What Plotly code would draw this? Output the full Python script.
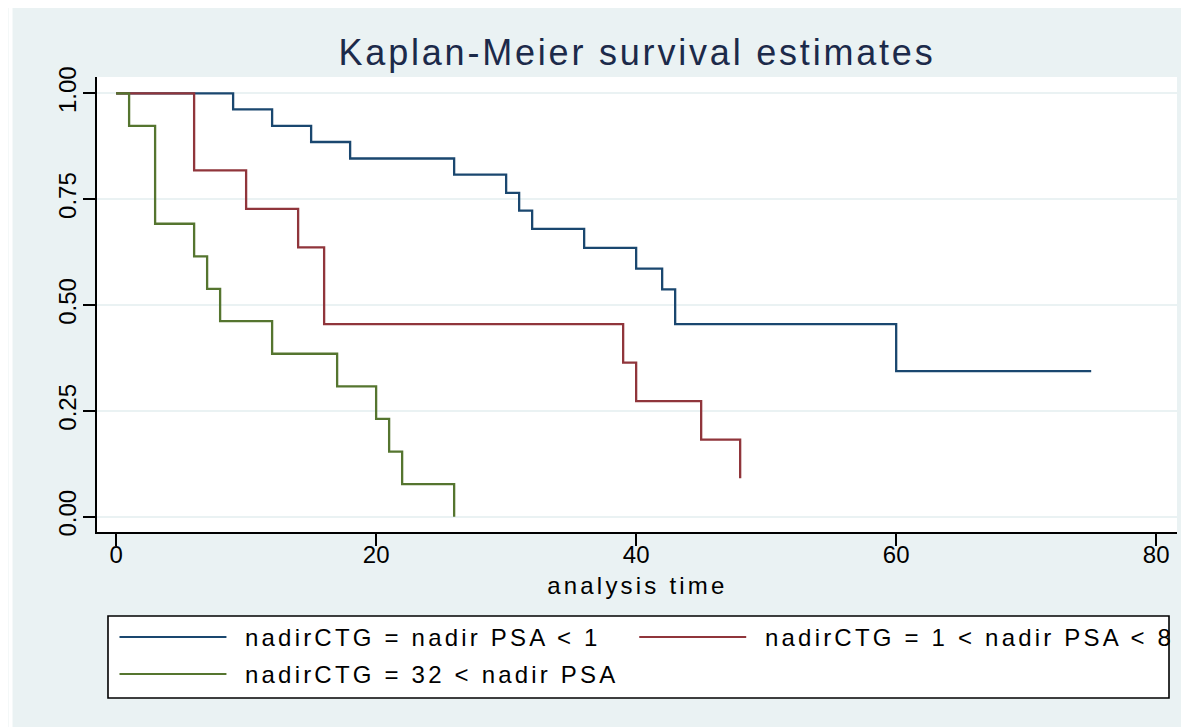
import plotly.graph_objects as go

# ---------------- data ----------------
series_names = [
    "nadirCTG = nadir PSA < 1",
    "nadirCTG = 1 < nadir PSA < 8",
    "nadirCTG = 32 < nadir PSA",
]
blue_time = [0, 9, 12, 15, 18, 26, 30, 31, 32, 36, 40, 42, 43, 60, 75]
blue_surv = [1.0, 0.962, 0.923, 0.885, 0.846, 0.808, 0.765, 0.723, 0.680, 0.635,
             0.586, 0.537, 0.455, 0.344, 0.344]
red_time = [0, 6, 10, 14, 16, 39, 40, 45, 48]
red_surv = [1.0, 0.818, 0.727, 0.636, 0.455, 0.364, 0.273, 0.182, 0.091]
green_time = [0, 1, 3, 6, 7, 8, 12, 17, 20, 21, 22, 26]
green_surv = [1.0, 0.923, 0.692, 0.615, 0.538, 0.462, 0.385, 0.308, 0.231, 0.154, 0.077, 0.0]

x_ticks = [0, 20, 40, 60, 80]
y_ticks = [0.0, 0.25, 0.50, 0.75, 1.0]
y_ticklabels = ["0.00", "0.25", "0.50", "0.75", "1.00"]

title_text = "Kaplan-Meier survival estimates"
xaxis_title = "analysis time"

colors = ["#1a476f", "#90353b", "#55752f"]

# ---------------- layout constants (pixels, page offset of 8px removed) ----------------
OFF = 8
W, H = 1189 - OFF, 727 - OFF
L, R, T, B = 96.5 - OFF, 1177 - OFF, 77 - OFF, 532 - OFF   # plot area edges
FONT = "Liberation Sans, Arial, sans-serif"
BG = "#EAF2F3"


def px(xpix):
    """page pixel x -> paper coordinate"""
    return (xpix - OFF - L) / (R - L)


def py(ypix):
    """page pixel y -> paper coordinate"""
    return (B - (ypix - OFF)) / (B - T)


fig = go.Figure()
for t, s, c, n in zip([blue_time, red_time, green_time],
                      [blue_surv, red_surv, green_surv], colors, series_names):
    fig.add_trace(go.Scatter(x=t, y=s, mode="lines", line=dict(color=c, width=2.3, shape="hv"),
                             name=n, showlegend=False))

shapes = []
# white outer strip on the left
shapes.append(dict(type="rect", xref="paper", yref="paper", x0=px(OFF), x1=px(12), y0=py(727), y1=py(OFF),
                   fillcolor="white", line=dict(width=0), layer="above"))
# legend box
shapes.append(dict(type="rect", xref="paper", yref="paper", x0=px(107.5), x1=px(1169), y0=py(698), y1=py(616),
                   fillcolor="white", line=dict(color="black", width=1.6), layer="above"))

legend_rows = [(119, 226, 243, 637), (639, 746, 763, 637), (119, 226, 243, 674)]
annotations = []
for (lx0, lx1, tx, ry), c, n in zip(legend_rows, colors, series_names):
    shapes.append(dict(type="line", xref="paper", yref="paper", x0=px(lx0), x1=px(lx1), y0=py(ry), y1=py(ry),
                       line=dict(color=c, width=1.8), layer="above"))
    annotations.append(dict(text=n, xref="paper", yref="paper", x=px(tx), y=py(ry), xanchor="left",
                            align="left", yanchor="middle", showarrow=False,
                            font=dict(family=FONT, size=24, color="black")))

annotations.append(dict(text=xaxis_title, xref="paper", yref="paper", x=0.5, y=py(585), xanchor="center",
                        yanchor="middle", showarrow=False, font=dict(family=FONT, size=24, color="black")))

fig.update_layout(
    width=W, height=H,
    margin=dict(l=L, r=W - R, t=T, b=H - B, autoexpand=False),
    paper_bgcolor=BG, plot_bgcolor="white",
    title=dict(text=title_text, x=0.5, xref="paper", xanchor="center", y=1 - (52 - OFF) / H,
               yref="container", yanchor="middle", font=dict(family=FONT, size=36, color="#1c2a4a")),
    shapes=shapes, annotations=annotations,
    showlegend=False,
)
fig.update_xaxes(range=[-1.47, 81.6], tickvals=x_ticks, ticks="outside", ticklen=12, tickwidth=1.6,
                 tickcolor="black", showline=True, linecolor="black", linewidth=2, showgrid=False,
                 zeroline=False, tickfont=dict(family=FONT, size=24, color="black"), mirror=False,
                 ticklabelstandoff=-12)
fig.update_yaxes(range=[-0.036, 1.0385], tickvals=y_ticks, ticktext=y_ticklabels, tickangle=-90,
                 ticks="outside", ticklen=12, tickwidth=1.6, tickcolor="black", showline=True,
                 linecolor="black", linewidth=2, showgrid=True, gridcolor=BG, gridwidth=1.6,
                 zeroline=False, tickfont=dict(family=FONT, size=24, color="black"), mirror=False,
                 ticklabelstandoff=-3)

# Stata renders its longer texts with a little extra character spacing
post = """
document.querySelectorAll('.annotation-text').forEach(function(t){ t.style.letterSpacing = '3.2px'; });
document.querySelectorAll('.gtitle').forEach(function(t){ t.style.letterSpacing = '2.8px'; });
"""
fig.write_html("out.html", post_script=post)
